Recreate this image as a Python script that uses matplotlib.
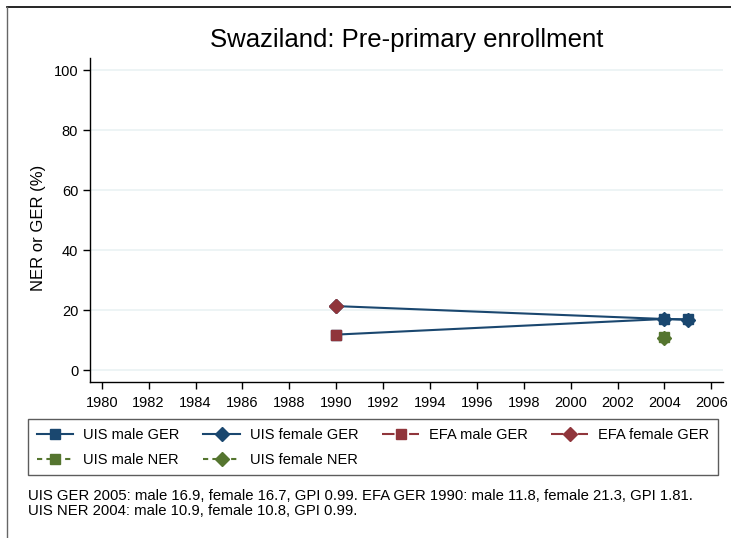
import matplotlib
matplotlib.use("Agg")
import matplotlib.pyplot as plt
from matplotlib.lines import Line2D

plt.rcParams['font.family'] = ['Liberation Sans', 'DejaVu Sans']

uis_years = [1990, 2004, 2005]
uis_male_ger = [11.8, 17.0, 16.9]
uis_female_ger = [21.3, 17.0, 16.7]
efa_years = [1990]
efa_male_ger = [11.8]
efa_female_ger = [21.3]
ner_years = [2004]
uis_male_ner = [10.9]
uis_female_ner = [10.8]

xticks = list(range(1980, 2007, 2))
yticks = [0, 20, 40, 60, 80, 100]

navy = '#1a476f'
maroon = '#90353b'
green = '#55752f'
grid = '#eaf2f3'

fig = plt.figure(figsize=(7.31, 5.38), dpi=100)
W, H = 731, 538
ax = fig.add_axes([90 / W, 1 - 382 / H, (723 - 90) / W, (382 - 58) / H])

ax.plot(uis_years, uis_male_ger, color=navy, lw=1.5, marker='s', ms=7, zorder=3)
ax.plot(uis_years, uis_female_ger, color=navy, lw=1.5, marker='D', ms=7, zorder=3)
ax.plot(efa_years, efa_male_ger, color=maroon, marker='s', ms=7, ls='none', zorder=4)
ax.plot(efa_years, efa_female_ger, color=maroon, marker='D', ms=7, ls='none', zorder=4)
ax.plot(ner_years, uis_male_ner, color=green, marker='s', ms=7, ls='none', zorder=4)
ax.plot(ner_years, uis_female_ner, color=green, marker='D', ms=7, ls='none', zorder=4)

ax.set_xlim(1979.5, 2006.5)
ax.set_ylim(-4, 104)
ax.set_xticks(xticks)
ax.set_yticks(yticks)
ax.tick_params(labelsize=10.5, length=5, width=1, color='black', direction='out')
ax.tick_params(axis='x', pad=5)
ax.grid(axis='y', color=grid, lw=1.2)
ax.set_axisbelow(True)
for s in ['top', 'right']:
    ax.spines[s].set_visible(False)
ax.spines['left'].set_linewidth(1)
ax.spines['bottom'].set_linewidth(1)
fig.text(39 / W, 1 - 228 / H, 'NER or GER (%)', rotation=90, ha='center', va='center', fontsize=12)
fig.text(407 / W, 1 - 40 / H, 'Swaziland: Pre-primary enrollment', ha='center', va='center', fontsize=18.5)

handles = [
    Line2D([], [], color=navy, marker='s', ms=7, lw=1.5),
    Line2D([], [], color=navy, marker='D', ms=7, lw=1.5),
    Line2D([], [], color=maroon, marker='s', ms=7, lw=1.5, dashes=(6, 3, 1, 3)),
    Line2D([], [], color=maroon, marker='D', ms=7, lw=1.5, dashes=(6, 3, 1, 3)),
    Line2D([], [], color=green, marker='s', ms=7, lw=1.5, dashes=(2.5, 2)),
    Line2D([], [], color=green, marker='D', ms=7, lw=1.5, dashes=(2.5, 2)),
]
labels = ['UIS male GER', 'UIS female GER', 'EFA male GER', 'EFA female GER',
          'UIS male NER', 'UIS female NER']
order = [0, 4, 1, 5, 2, 3]
leg = fig.legend([handles[i] for i in order], [labels[i] for i in order], ncol=4,
                 loc='upper left',
                 bbox_to_anchor=(28 / W, 1 - 472 / H, (718 - 28) / W, (472 - 419) / H),
                 mode='expand', fontsize=10.5, frameon=True, fancybox=False,
                 edgecolor='#333333', handlelength=2.5, borderpad=0.6,
                 labelspacing=0.75, columnspacing=1.0, handletextpad=0.7,
                 borderaxespad=0)
leg.get_frame().set_linewidth(1)

fig.text(28 / W, 1 - 496 / H, 'UIS GER 2005: male 16.9, female 16.7, GPI 0.99. EFA GER 1990: male 11.8, female 21.3, GPI 1.81.',
         fontsize=10.7, va='center', ha='left')
fig.text(28 / W, 1 - 511 / H, 'UIS NER 2004: male 10.9, female 10.8, GPI 0.99.',
         fontsize=10.7, va='center', ha='left')

fig.add_artist(Line2D([7 / W, 1], [1 - 7 / H, 1 - 7 / H], color='black', lw=1.2))
fig.add_artist(Line2D([7 / W, 7 / W], [1 - 7 / H, 0], color='#666666', lw=1))

fig.savefig('out.png', dpi=100)
